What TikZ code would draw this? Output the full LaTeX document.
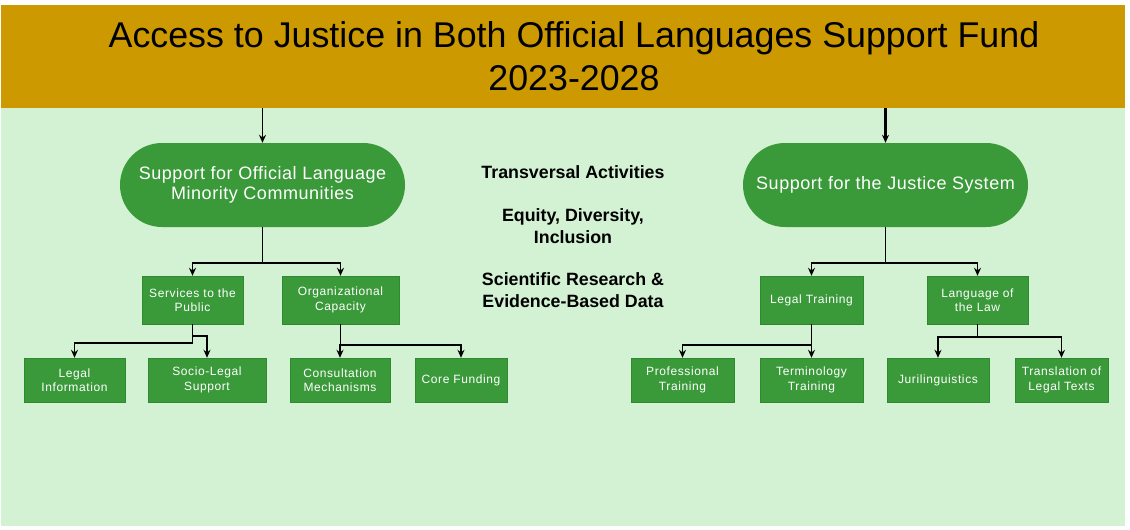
\documentclass[tikz,border=0pt]{standalone}
\usepackage{fontspec}
\setmainfont{Liberation Sans}
\newfontfamily\boxfont[LetterSpace=5]{Liberation Sans}
\newfontfamily\pillfont[LetterSpace=3]{Liberation Sans}
\usepackage{tikz}
\usetikzlibrary{shapes.geometric, arrows, arrows.meta}
\definecolor{headgold}{HTML}{CC9900}
\definecolor{paleback}{HTML}{D3F1D3}
\definecolor{fundgreen}{HTML}{3A9A3A}
\definecolor{fundedge}{HTML}{2F8A2F}
\tikzstyle{arrow} = [line width=1.8pt,->,>={Stealth[length=8pt,width=7pt]}]
\tikzstyle{pill} = [rectangle, rounded corners=42pt, fill=fundgreen, text=white, minimum width=285pt, minimum height=84pt, align=center, font=\pillfont\fontsize{18}{20}\selectfont]
\tikzstyle{transv} = [align=center, font=\bfseries\fontsize{17.8}{21.5}\selectfont]

\begin{document}
\begin{tikzpicture}[x=1pt, y=-1pt,
    fundbox/.style 2 args={rectangle, draw=fundedge, fill=fundgreen, text=white, minimum width=#1pt, minimum height=#2pt, align=center, inner sep=1pt, font=\boxfont\fontsize{12}{14.5}\selectfont}]
    \useasboundingbox (0,0) rectangle (1130,530);
    \fill[paleback] (1,108) rectangle (1125,526);
    \fill[headgold] (1,5) rectangle (1125,108);
    \node[font=\fontsize{35.8}{43}\selectfont, align=center] (title) at (574,56) {Access to Justice in Both Official Languages Support Fund\\2023-2028};
    \coordinate (headL) at (262.5,108);
    \coordinate (headR) at (885.5,108);

    \node[pill] (olmc) at (262.5,185) {Support for Official Language\\Minority Communities};
    \node[pill] (justice) at (885.5,185) {Support for the Justice System};

    \node[transv] (trans) at (573,172) {Transversal Activities};
    \node[transv] (edi) at (573,226) {Equity, Diversity,\\Inclusion};
    \node[transv] (research) at (573,290) {Scientific Research \&\\Evidence-Based Data};

    \node[fundbox={101}{48}] (public) at (192.5,300) {Services to the\\Public};
    \node[fundbox={117}{48}] (orgcap) at (340.5,300) {Organizational\\Capacity};
    \node[fundbox={103}{48}] (legaltr) at (811.5,300) {Legal Training};
    \node[fundbox={101}{48}] (langlaw) at (977.5,300) {Language of\\the Law};

    \node[fundbox={101}{44}] (leginfo) at (74.5,380) {Legal\\Information};
    \node[fundbox={118}{44}] (socio) at (207,380) {Socio-Legal\\Support};
    \node[fundbox={100}{44}] (consult) at (340,380) {Consultation\\Mechanisms};
    \node[fundbox={92}{44}] (core) at (461,380) {Core Funding};
    \node[fundbox={103}{44}] (proftr) at (682.5,380) {Professional\\Training};
    \node[fundbox={103}{44}] (termtr) at (811.5,380) {Terminology\\Training};
    \node[fundbox={102}{44}] (juri) at (938,380) {Jurilinguistics};
    \node[fundbox={93}{44}] (translate) at (1061.5,380) {Translation of\\Legal Texts};

    \draw[arrow, line width=1.4pt] (headL) -- (olmc.north);
    \draw[arrow, line width=2.6pt] (headR) -- (justice.north);

    \draw[arrow] (olmc.south) -- ++(0,36) -| (public.north);
    \draw[arrow] (olmc.south) -- ++(0,36) -| (orgcap.north);
    \draw[arrow] (justice.south) -- ++(0,36) -| (legaltr.north);
    \draw[arrow] (justice.south) -- ++(0,36) -| (langlaw.north);

    \draw[arrow] (public.south) -- ++(0,19) -| (leginfo.north);
    \draw[arrow] (public.south) -- ++(0,12) -| (socio.north);
    \draw[arrow] (orgcap.south) -- ++(0,21) -| (consult.north);
    \draw[arrow] (orgcap.south) -- ++(0,21) -| (core.north);
    \draw[arrow] (legaltr.south) -- ++(0,21) -| (proftr.north);
    \draw[arrow] (legaltr.south) -- (termtr.north);
    \draw[arrow] (langlaw.south) -- ++(0,13) -| (juri.north);
    \draw[arrow] (langlaw.south) -- ++(0,13) -| (translate.north);
\end{tikzpicture}
\end{document}
